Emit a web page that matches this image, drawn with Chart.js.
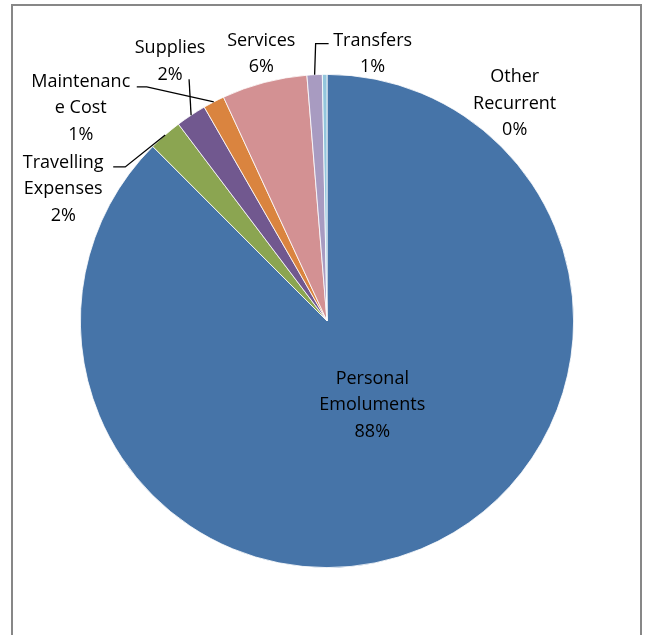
<!DOCTYPE html>
<html>
<head>
<meta charset="utf-8">
<title>Recurrent Expenditure</title>
<script src="https://cdn.jsdelivr.net/npm/chart.js@4.4.0/dist/chart.umd.min.js"></script>
<style>
  html, body { margin: 0; padding: 0; background: #fff; }
  canvas { display: block; }
</style>
</head>
<body>
<canvas id="expenditure-chart" width="645" height="635"></canvas>
<script>
// Recurrent expenditure by head (share of total)
const categories = ['Personal Emoluments', 'Travelling Expenses', 'Supplies', 'Maintenance Cost', 'Services', 'Transfers', 'Other Recurrent'];
const labelLines = [['Personal', 'Emoluments'], ['Travelling', 'Expenses'], ['Supplies'], ['Maintenanc', 'e Cost'], ['Services'], ['Transfers'], ['Other', 'Recurrent']];
const shares = [87.6, 2.2, 2.0, 1.4, 5.6, 1.0, 0.3];
const colors = ['#4674A8', '#8BA551', '#71588F', '#DA843F', '#D39193', '#A89BC1', '#93C6DD'];

// where each label sits relative to the outer edge of its slice, plus leader bends
const labelPlacement = [
  { dx: -49, dy: -165, leader: null },
  { dx: -102, dy: 33, leader: [[50, -1], [62, -1]].reverse() },
  { dx: -21, dy: -62, leader: [[19, 26]] },
  { dx: -133, dy: -15, leader: [[66, 0], [56, 0]] },
  { dx: -3, dy: -37, leader: null },
  { dx: 58, dy: -29, leader: [[-57, -2], [-44, -2]] },
  { dx: 190, dy: 8, leader: null }
];

const FONT = '18px "Open Sans"';
const LINE_HEIGHT = 26.5;

function percentText(i) {
  const total = shares.reduce((a, b) => a + b, 0);
  return Math.round(shares[i] / total * 100) + '%';
}

const framePlugin = {
  id: 'frame',
  beforeDraw(chart) {
    const ctx = chart.ctx;
    ctx.save();
    ctx.fillStyle = '#fff';
    ctx.fillRect(0, 0, chart.width, chart.height);
    ctx.strokeStyle = '#878787';
    ctx.lineWidth = 2;
    ctx.strokeRect(12, 5, 629, 700);
    ctx.restore();
  }
};

const sliceLabels = {
  id: 'sliceLabels',
  afterDatasetsDraw(chart) {
    const ctx = chart.ctx;
    const arcs = chart.getDatasetMeta(0).data;
    ctx.save();
    ctx.font = FONT;
    ctx.fillStyle = '#000';
    ctx.textAlign = 'center';
    ctx.textBaseline = 'alphabetic';
    arcs.forEach((arc, i) => {
      const { x, y, startAngle, endAngle, outerRadius } = arc.getProps(['x', 'y', 'startAngle', 'endAngle', 'outerRadius'], true);
      const mid = (startAngle + endAngle) / 2;
      const ex = x + Math.cos(mid) * outerRadius;
      const ey = y + Math.sin(mid) * outerRadius;
      const p = labelPlacement[i];
      const ax = ex + p.dx;
      const ay = ey + p.dy;

      if (p.leader) {
        ctx.beginPath();
        ctx.moveTo(ex, ey);
        p.leader.forEach(([lx, ly]) => ctx.lineTo(ax + lx, ay + ly));
        ctx.strokeStyle = '#000';
        ctx.lineWidth = 1.3;
        ctx.stroke();
      }

      const lines = labelLines[i].concat(percentText(i));
      lines.forEach((t, k) => ctx.fillText(t, ax, ay + k * LINE_HEIGHT));
    });
    ctx.restore();
  }
};

new Chart(document.getElementById('expenditure-chart'), {
  type: 'pie',
  data: {
    labels: categories,
    datasets: [{
      data: shares,
      backgroundColor: colors,
      borderColor: '#fff',
      borderWidth: 0.8
    }]
  },
  options: {
    responsive: false,
    animation: false,
    layout: { padding: { left: 80, top: 74, right: 71, bottom: 67 } },
    plugins: {
      legend: { display: false },
      tooltip: { enabled: false }
    }
  },
  plugins: [framePlugin, sliceLabels]
});
</script>
</body>
</html>
